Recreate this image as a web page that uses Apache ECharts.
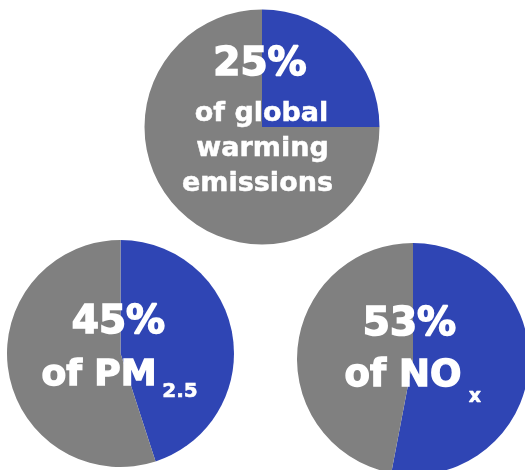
<!DOCTYPE html>
<html><head><meta charset="utf-8">
<script src="https://cdn.jsdelivr.net/npm/echarts@6/dist/echarts.min.js"></script>
<style>html,body{margin:0;padding:0;background:#fff}#c{width:525px;height:470px}</style>
</head><body><div id="c"></div>
<script>
const categories = ['Share', 'Rest'];
const shares = [25, 45, 53];
const headlines = ['25%', '45%', '53%'];
const captions = [['of global', 'warming', 'emissions'], ['of PM'], ['of NO']];
const subscripts = ['', '2.5', 'x'];

const BLUE = '#2f45b4', GRAY = '#808080';
const FONT = '"DejaVu Sans", sans-serif';
const layout = [
  {center: [262, 127], r: 117.5},
  {center: [120.5, 353.5], r: 113.5},
  {center: [413, 359], r: 116}
];

const series = shares.map((v, i) => ({
  type: 'pie', silent: true, startAngle: 90, clockwise: true,
  center: layout[i].center, radius: [0, layout[i].r],
  label: {show: false}, labelLine: {show: false},
  itemStyle: {borderWidth: 0},
  data: [
    {name: categories[0], value: v, itemStyle: {color: BLUE}},
    {name: categories[1], value: 100 - v, itemStyle: {color: GRAY}}
  ]
}));

// y given as baseline; converted to middle alignment
function txt(text, x, base, size, sw) {
  return {type: 'text', x: x, y: base - 0.3 * size, z: 100, style: {text: text, fill: '#fff',
    stroke: '#fff', lineWidth: sw,
    font: 'bold ' + size + 'px ' + FONT, textAlign: 'center', textVerticalAlign: 'middle'}};
}
const g = [];
// top
g.push(txt(headlines[0], 260, 77, 39, 1.6));
const capX = [261.5, 262.5, 257.5];
captions[0].forEach((c, k) => g.push(txt(c, capX[k], 122 + k * 35, 27, 0.5)));
// bottom left
g.push(txt(headlines[1], 118.5, 335, 39, 1.6));
g.push(txt(captions[1][0], 99, 386, 36, 1.4));
g.push(txt(subscripts[1], 180, 398, 20, 0.6));
// bottom right
g.push(txt(headlines[2], 409.5, 337, 39, 1.6));
g.push(txt(captions[2][0], 403, 387, 37, 1.4));
g.push(txt(subscripts[2], 475, 403, 19, 0.6));

const chart = echarts.init(document.getElementById('c'));
chart.setOption({animation: false, series: series, graphic: g});
</script></body></html>
